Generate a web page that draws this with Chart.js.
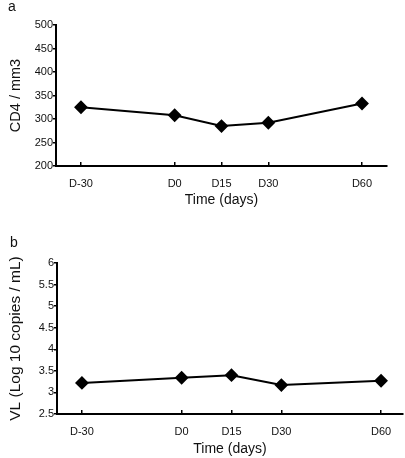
<!DOCTYPE html>
<html>
<head>
<meta charset="utf-8">
<script src="https://cdn.jsdelivr.net/npm/chart.js@4/dist/chart.umd.min.js"></script>
<style>
  body { margin: 0; background: #fff; font-family: "Liberation Sans", Arial, sans-serif; }
  .wrap { position: absolute; left: 0; width: 405px; }
  .panel { position: absolute; font-size: 14px; color: #111; }
</style>
</head>
<body>
<div class="wrap" style="top:0;height:230px"><canvas id="chartA" width="405" height="230"></canvas></div>
<div class="wrap" style="top:230px;height:228px"><canvas id="chartB" width="405" height="228"></canvas></div>
<div class="panel" style="left:8px;top:-2px">a</div>
<div class="panel" style="left:10px;top:234px">b</div>
<script>
// time points (days) and their labels
const days = [-30, 0, 15, 30, 60];
const dayLabels = ["D-30", "D0", "D15", "D30", "D60"];

// panel a: CD4 count
const cd4Values = [325, 308, 285, 292, 333];
// panel b: viral load
const vlValues = [3.22, 3.34, 3.40, 3.17, 3.27];

function makeChart(id, values, yTitle, yMin, yMax, yStep, xMin, xMax, box) {
  const ctx = document.getElementById(id);
  return new Chart(ctx, {
    type: "line",
    data: {
      datasets: [
        {
          data: days.map(function (d, i) { return { x: d, y: values[i] }; }),
          borderColor: "#000",
          backgroundColor: "#000",
          borderWidth: 2,
          pointStyle: "rectRot",
          pointRadius: 5.5,
          pointBackgroundColor: "#000",
          pointBorderColor: "#000",
          tension: 0,
        },
      ],
    },
    options: {
      responsive: false,
      animation: false,
      layout: {
        autoPadding: false,
        padding: { top: box.top, right: box.right, left: 0, bottom: 0 },
      },
      plugins: { legend: { display: false }, tooltip: { enabled: false } },
      scales: {
        x: {
          type: "linear",
          min: xMin,
          max: xMax,
          afterBuildTicks: function (axis) {
            axis.ticks = days.map(function (d) { return { value: d }; });
          },
          afterFit: function (scale) {
            scale.height = box.xHeight;
            scale.paddingLeft = 0;
            scale.paddingRight = 0;
          },
          border: { color: "#000", width: 2 },
          grid: { drawOnChartArea: false, tickLength: -4, color: "#000", lineWidth: 1.5 },
          ticks: {
            color: "#111",
            padding: 15,
            autoSkip: false,
            maxRotation: 0,
            font: { size: 11, family: "Liberation Sans" },
            callback: function (value) {
              const i = days.indexOf(value);
              return i >= 0 ? dayLabels[i] : "";
            },
          },
          title: {
            display: true,
            text: "Time (days)",
            color: "#111",
            font: { size: 14, family: "Liberation Sans" },
            padding: { top: 0, bottom: box.xTitlePad },
          },
        },
        y: {
          min: yMin,
          max: yMax,
          afterFit: function (scale) {
            scale.width = box.left;
            scale.paddingTop = 0;
            scale.paddingBottom = 0;
          },
          border: { color: "#000", width: 2 },
          grid: { drawOnChartArea: false, tickLength: 3, color: "#000", lineWidth: 1.5 },
          ticks: {
            stepSize: yStep,
            color: "#111",
            padding: 0,
            font: { size: 11, family: "Liberation Sans" },
            callback: function (value) { return String(Math.round(value * 10) / 10); },
          },
          title: {
            display: true,
            text: yTitle,
            color: "#111",
            font: { size: box.yTitleSize, family: "Liberation Sans" },
            padding: { top: box.yTitlePad, bottom: 0 },
          },
        },
      },
    },
  });
}

makeChart("chartA", cd4Values, "CD4 / mm3", 200, 500, 50, -38, 68,
  { top: 25, right: 18, left: 56, xHeight: 64, xTitlePad: 21, yTitleSize: 14.5, yTitlePad: 7 });
makeChart("chartB", vlValues, "VL (Log 10 copies / mL)", 2.5, 6, 0.5, -37.5, 66.6,
  { top: 33, right: 2, left: 57, xHeight: 44, xTitlePad: 0, yTitleSize: 15.5, yTitlePad: 6 });
</script>
</body>
</html>
